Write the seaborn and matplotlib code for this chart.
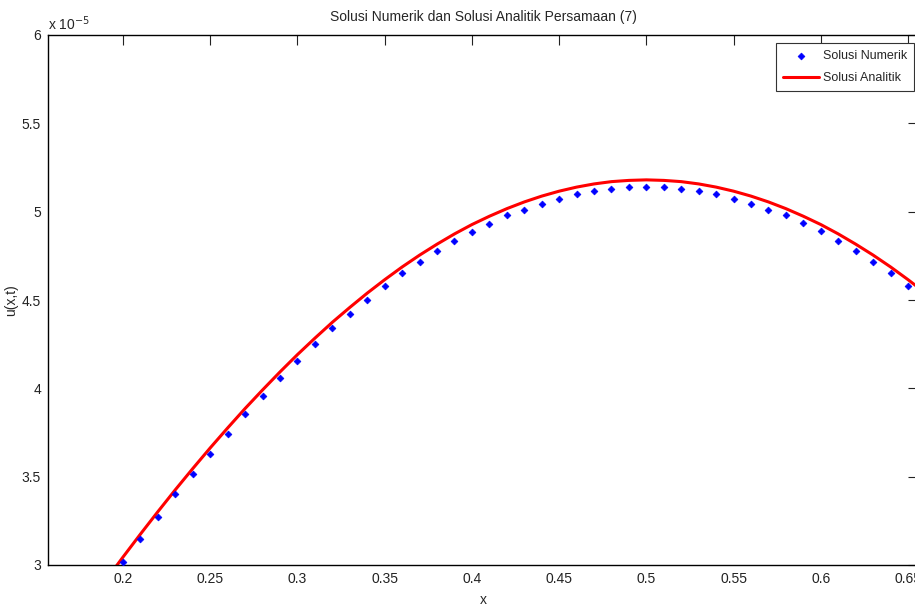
import numpy as np
import pandas as pd
import matplotlib
matplotlib.use("Agg")
import matplotlib.pyplot as plt
from matplotlib.ticker import FuncFormatter
import seaborn as sns

# ---- data (u values in units of 1e-5) ----
x_num = [0.20, 0.21, 0.22, 0.23, 0.24, 0.25, 0.26, 0.27, 0.28, 0.29,
         0.30, 0.31, 0.32, 0.33, 0.34, 0.35, 0.36, 0.37, 0.38, 0.39,
         0.40, 0.41, 0.42, 0.43, 0.44, 0.45, 0.46, 0.47, 0.48, 0.49,
         0.50, 0.51, 0.52, 0.53, 0.54, 0.55, 0.56, 0.57, 0.58, 0.59,
         0.60, 0.61, 0.62, 0.63, 0.64, 0.65]
u_num = [3.019, 3.149, 3.273, 3.400, 3.517, 3.630, 3.742, 3.853, 3.958, 4.057,
         4.155, 4.249, 4.342, 4.419, 4.498, 4.578, 4.651, 4.717, 4.776, 4.834,
         4.887, 4.932, 4.979, 5.011, 5.045, 5.070, 5.098, 5.117, 5.130, 5.138,
         5.138, 5.138, 5.130, 5.117, 5.098, 5.072, 5.045, 5.011, 4.979, 4.934,
         4.889, 4.836, 4.776, 4.717, 4.651, 4.579]

x_ana = [0.19, 0.20, 0.21, 0.22, 0.23, 0.24, 0.25, 0.26, 0.27, 0.28,
         0.29, 0.30, 0.31, 0.32, 0.33, 0.34, 0.35, 0.36, 0.37, 0.38,
         0.39, 0.40, 0.41, 0.42, 0.43, 0.44, 0.45, 0.46, 0.47, 0.48,
         0.49, 0.50, 0.51, 0.52, 0.53, 0.54, 0.55, 0.56, 0.57, 0.58,
         0.59, 0.60, 0.61, 0.62, 0.63, 0.64, 0.65, 0.66]
u_ana = [2.912, 3.045, 3.175, 3.302, 3.426, 3.546, 3.663, 3.776, 3.886, 3.991,
         4.093, 4.191, 4.284, 4.374, 4.458, 4.539, 4.615, 4.687, 4.754, 4.816,
         4.874, 4.927, 4.974, 5.017, 5.055, 5.088, 5.116, 5.139, 5.157, 5.170,
         5.177, 5.180, 5.177, 5.170, 5.157, 5.139, 5.116, 5.088, 5.055, 5.017,
         4.974, 4.927, 4.874, 4.816, 4.754, 4.687, 4.615, 4.539]

x_ticks = [0.2, 0.25, 0.3, 0.35, 0.4, 0.45, 0.5, 0.55, 0.6, 0.65]
y_ticks = [3.0, 3.5, 4.0, 4.5, 5.0, 5.5, 6.0]
SCALE = 1e-5

title = "Solusi Numerik dan Solusi Analitik Persamaan (7)"
labels = ["Solusi Numerik", "Solusi Analitik"]

df_num = pd.DataFrame({"x": x_num, "u": np.array(u_num) * SCALE})
df_ana = pd.DataFrame({"x": x_ana, "u": np.array(u_ana) * SCALE})

sns.set_theme(style="white")
plt.rcParams["font.family"] = ["Liberation Sans Narrow", "Liberation Sans", "DejaVu Sans"]
plt.rcParams["xtick.direction"] = "in"
plt.rcParams["ytick.direction"] = "in"

W, H = 915, 606
fig = plt.figure(figsize=(W / 100, H / 100), dpi=100)
ax = fig.add_axes([48 / W, (H - 565) / H, (918 - 48) / W, (565 - 35) / H])

sns.lineplot(data=df_ana, x="x", y="u", ax=ax, color="#ff0000", linewidth=2.2,
             label=labels[1], sort=True, estimator=None, zorder=2)
sns.scatterplot(data=df_num, x="x", y="u", ax=ax, color="#0000ff", marker="D",
                s=12, edgecolor="#0000ff", linewidth=0.5, label=labels[0], zorder=3)

ax.set_xlim(0.157, 0.6557)
ax.set_ylim(3 * SCALE, 6 * SCALE)
ax.set_xticks(x_ticks)
ax.set_yticks([v * SCALE for v in y_ticks])
ax.xaxis.set_major_formatter(FuncFormatter(lambda v, p: f"{v:g}"))
ax.yaxis.set_major_formatter(FuncFormatter(lambda v, p: f"{round(v / SCALE, 3):g}"))
ax.tick_params(axis="both", which="both", direction="in", length=7, width=0.8,
               top=True, right=True, labelsize=10, colors="#222222", pad=5)
for s in ax.spines.values():
    s.set_color("black")
    s.set_linewidth(1.0)
    s.set_visible(True)

ax.set_xlabel("x", fontsize=10, labelpad=5)
ax.set_ylabel("u(x,t)", fontsize=10, labelpad=3)
ax.set_title(title, fontsize=10, pad=10)
ax.text(0.0, 1.004, r"x 10$^{-5}$", transform=ax.transAxes, fontsize=10,
        ha="left", va="bottom")

handles, labs = ax.get_legend_handles_labels()
order = [labs.index(labels[0]), labs.index(labels[1])]
leg = ax.legend([handles[i] for i in order], [labs[i] for i in order],
                loc="upper left", bbox_to_anchor=(776 / W, 1 - 43 / H),
                bbox_transform=fig.transFigure, borderaxespad=0, fontsize=9,
                frameon=True, fancybox=False, framealpha=1, edgecolor="#333333",
                handlelength=2.9, handletextpad=0.3, borderpad=0.55, labelspacing=0.8)
leg.get_frame().set_linewidth(0.8)

fig.savefig("out.png", dpi=100)
